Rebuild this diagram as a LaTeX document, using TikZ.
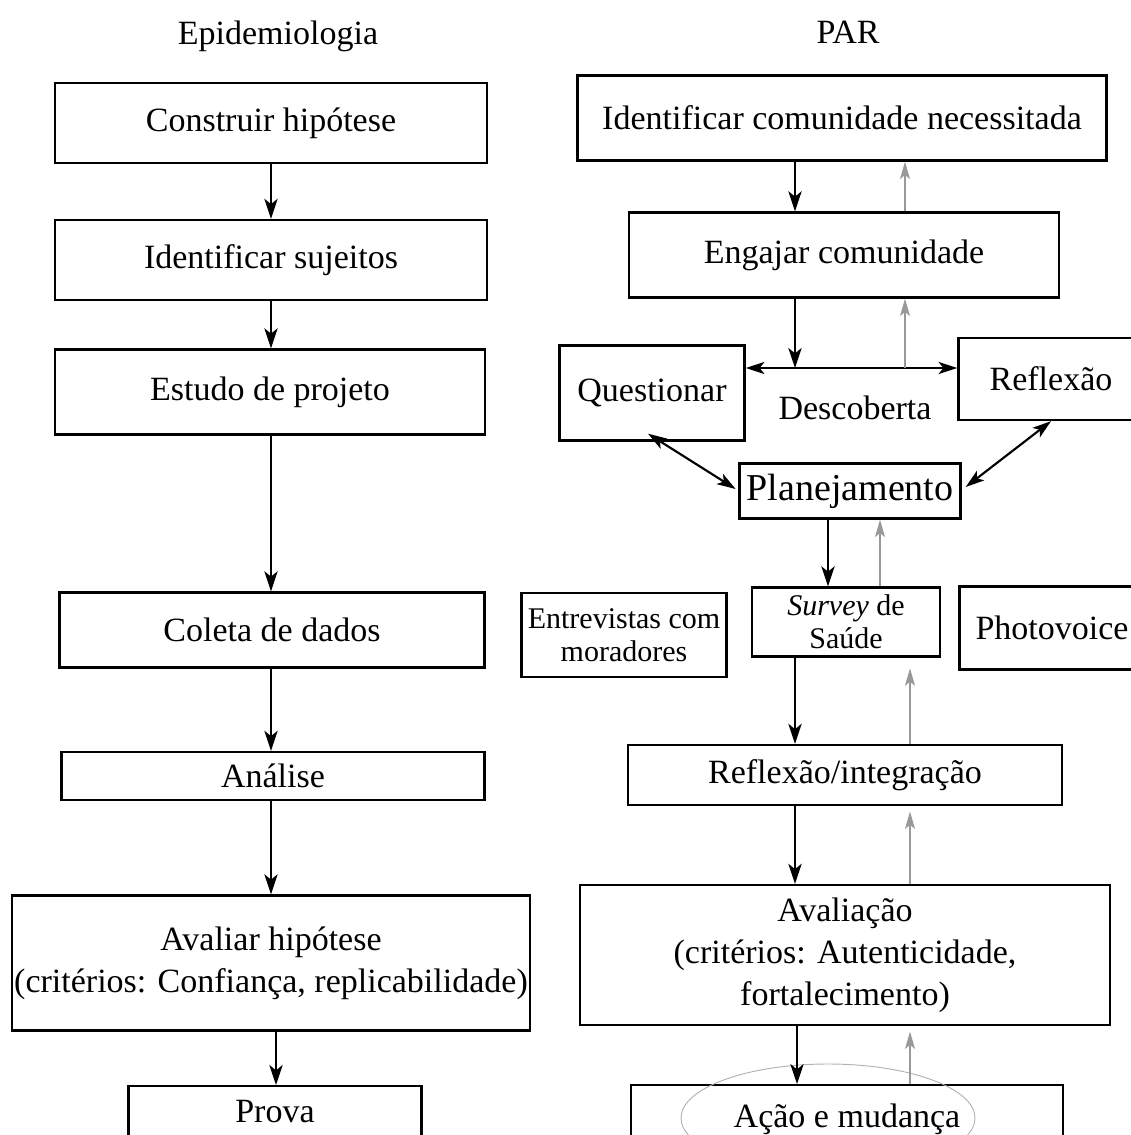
\documentclass[tikz,border=0pt]{standalone}
\usepackage{fontspec}
\setmainfont{Liberation Serif}
\usetikzlibrary{arrows.meta}
\begin{document}
\begin{tikzpicture}[x=0.75pt,y=-0.75pt,
  txt/.style={font=\fontsize{25.5}{31.5}\selectfont, align=center, inner sep=0pt},
  box/.style={txt, draw, line width=1.8pt},
  w/.style={minimum width=#1*0.75pt},
  h/.style={minimum height=#1*0.75pt},
  small/.style={font=\fontsize{22.5}{25}\selectfont},
  big/.style={font=\fontsize{28.5}{32}\selectfont},
  down/.style={line width=1.6pt, -{Stealth[length=15pt,width=10pt,inset=4pt]}},
  up/.style={line width=0.9pt, draw=black!40, -{Stealth[length=13pt,width=7.5pt,inset=3pt]}},
  both/.style={line width=1.6pt, {Stealth[length=14pt,width=9pt,inset=3.5pt]}-{Stealth[length=14pt,width=9pt,inset=3.5pt]}}
]
\useasboundingbox (0,0) rectangle (1131,1135);
\clip (0,0) rectangle (1131,1135);

% ---- Epidemiologia column ----
\node[txt] (tE) at (278,36) {Epidemiologia};
\node[box, w=432, h=80]  (e1) at (271,123) {Construir hipótese};
\node[box, w=432, h=80]  (e2) at (271,260) {Identificar sujeitos};
\node[box, w=430, h=85]  (e3) at (270,392) {Estudo de projeto};
\node[box, w=425, h=75]  (e4) at (272,630) {Coleta de dados};
\node[box, w=423, h=48]  (e5) at (273,776) {Análise};
\node[box, w=518, h=135] (e6) at (271,963) {Avaliar hipótese\\(critérios: Confiança, replicabilidade)};
\node[box, w=293, anchor=north, inner ysep=10pt, text height=17pt, text depth=60pt] (e7) at (275,1085) {Prova};

\draw[down] (e1.south -| 271,0) -- (e2.north -| 271,0);
\draw[down] (e2.south -| 271,0) -- (e3.north -| 271,0);
\draw[down] (e3.south -| 271,0) -- (e4.north -| 271,0);
\draw[down] (e4.south -| 271,0) -- (e5.north -| 271,0);
\draw[down] (e5.south -| 271,0) -- (e6.north -| 271,0);
\draw[down] (e6.south -| 276,0) -- (e7.north -| 276,0);

% ---- PAR column ----
\node[txt] (tP) at (848,32) {PAR};
\node[box, w=529, h=85]  (r1) at (842,118) {Identificar comunidade necessitada};
\node[box, w=430, h=85]  (r2) at (844,255) {Engajar comunidade};
\node[box, w=185, h=95]  (rq) at (652,393) {Questionar};
\node[box, w=185, h=82]  (rr) at (1051,379) {Reflexão};
\node[txt] (rd) at (855,408) {Descoberta};
\node[box, big, w=221, h=55] (rp) at (850,491) {Planejamento};
\node[box, small, w=188, h=69] (rs) at (846,622) {\textit{Survey} de\\Saúde};
\node[box, small, w=205, h=84] (re) at (624,635) {Entrevistas com\\moradores};
\node[box, w=185, h=83]  (rv) at (1052,628) {Photovoice};
\node[box, w=434, h=60]  (ri) at (845,775) {Reflexão/integração};
\node[box, w=530, h=140] (ra) at (845,955) {Avaliação\\(critérios: Autenticidade,\\fortalecimento)};
\node[box, w=432, anchor=north, inner ysep=14.5pt, text height=17pt, text depth=60pt] (rm) at (847,1084) {Ação e mudança};
\draw[black!30, line width=0.7pt] (828,1118) ellipse [x radius=147, y radius=54];

\coordinate (dl) at (795,368);
\coordinate (gl) at (905,368);

\draw[down] (r1.south -| 795,0) -- (r2.north -| 795,0);
\draw[up]   (r2.north -| 905,0) -- (r1.south -| 905,0);
\draw[both] (rq.east |- dl) -- (rr.west |- dl);
\draw[down] (r2.south -| dl) -- (dl);
\draw[up]   (gl) -- (r2.south -| gl);
\draw[both] (rq.south) ++(-4,-8) -- ([xshift=-2pt,yshift=1.5pt]rp.west);
\draw[both] (rr.south) -- ([xshift=3pt,yshift=3pt]rp.east);
\draw[down] (rp.south -| 828,0) -- (rs.north -| 828,0);
\draw[up]   (rs.north -| 880,0) -- (rp.south -| 880,0);
\draw[down] (rs.south -| 795,0) -- (ri.north -| 795,0);
\draw[up]   (ri.north -| 910,0) -- ([yshift=-8]rs.south -| 910,0);
\draw[down] (ri.south -| 795,0) -- (ra.north -| 795,0);
\draw[up]   (ra.north -| 910,0) -- ([yshift=-4]ri.south -| 910,0);
\draw[down] (ra.south -| 797,0) -- (rm.north -| 797,0);
\draw[up]   (rm.north -| 910,0) -- ([yshift=-4]ra.south -| 910,0);
\end{tikzpicture}
\end{document}
